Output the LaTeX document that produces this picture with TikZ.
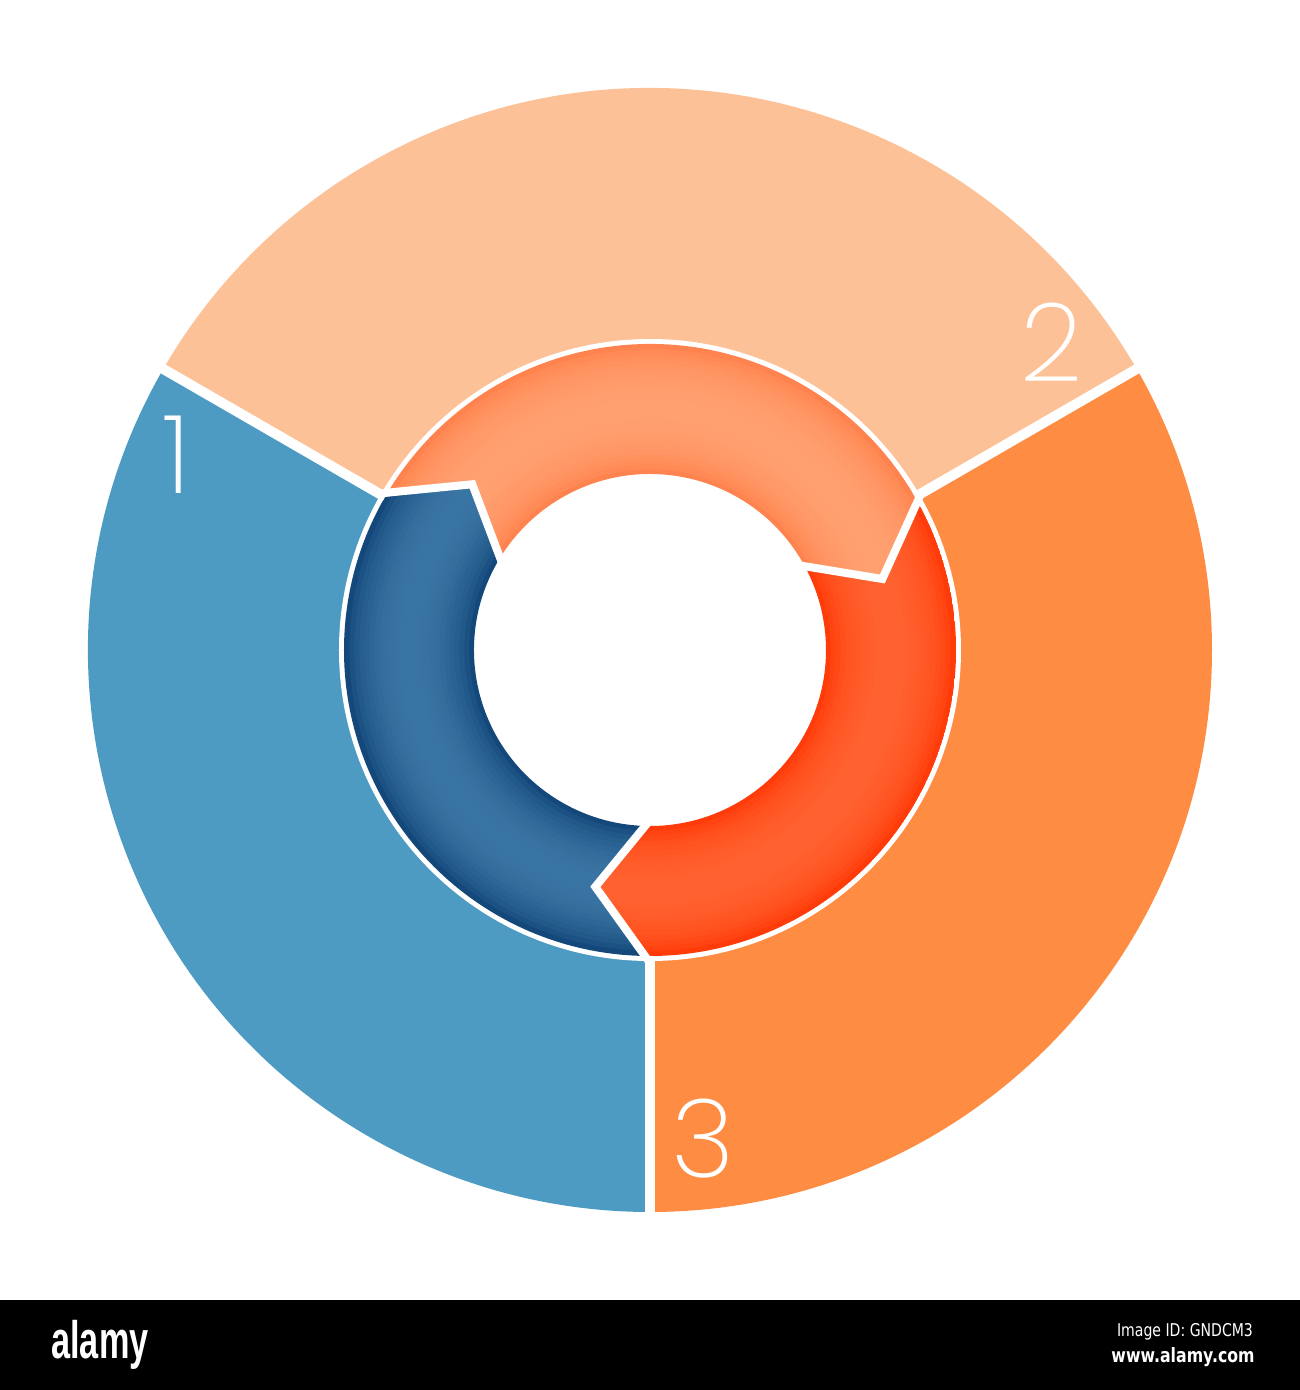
\documentclass[tikz,border=0pt]{standalone}
\usepackage{fontspec}
\newfontfamily\numfont{Poppins ExtraLight}
\newfontfamily\barfont{DejaVu Sans}
\newfontfamily\logofont{Liberation Sans}

\definecolor{peach}{HTML}{FDC197}
\definecolor{skyblue}{HTML}{4D9BC3}
\definecolor{tangerine}{HTML}{FE8C42}
\definecolor{salmonD}{HTML}{FF7D48}
\definecolor{salmonL}{HTML}{FFA070}
\definecolor{flameD}{HTML}{FF3300}
\definecolor{flameL}{HTML}{FF6230}
\definecolor{navyD}{HTML}{0B3E70}
\definecolor{navyL}{HTML}{3975A4}

\def\px{0.01}

% inner arrow of the ring: #1 tail angle, #2 edge colour, #3 middle colour
\newcommand{\arrowseg}[3]{%
  \begin{scope}
    \clip (#1:306*\px) arc[start angle=#1, end angle=#1-120, radius=306*\px]
      -- (#1-133:243*\px) -- (#1-120:176*\px)
      arc[start angle=#1-120, end angle=#1, radius=176*\px]
      -- (#1-13:243*\px) -- cycle;
    \foreach \k in {0,...,25}{
      \pgfmathsetmacro{\rr}{(178.5+5*\k)*\px}
      \pgfmathsetmacro{\mix}{100*(sin(180*(\k+0.5)/26))^0.6}
      \draw[line width=0.056cm, color=#3!\mix!#2] (0,0) circle (\rr);
    }
  \end{scope}
}

\begin{document}
\begin{tikzpicture}[divider/.style={white, line width=0.1cm},
  chevron/.style={white, line width=0.08cm, line join=miter, miter limit=10},
  numlabel/.style={text=white, inner sep=0pt, font=\numfont\fontsize{31}{31}\selectfont},
  bartext/.style={text=white, inner sep=0pt, xscale=0.8}]
\useasboundingbox (-650*\px,-740*\px) rectangle (650*\px,650*\px);

% outer sectors
\fill[peach]     (0,0) -- (30:562*\px)  arc[start angle=30,  end angle=150, radius=562*\px] -- cycle;
\fill[skyblue]   (0,0) -- (150:562*\px) arc[start angle=150, end angle=270, radius=562*\px] -- cycle;
\fill[tangerine] (0,0) -- (270:562*\px) arc[start angle=270, end angle=390, radius=562*\px] -- cycle;
\fill[white] (0,0) circle (311*\px);

% inner arrows
\arrowseg{150}{salmonD}{salmonL}
\arrowseg{30}{flameD}{flameL}
\arrowseg{-90}{navyD}{navyL}

\foreach \b in {150,30,-90}{
  \draw[chevron] (\b:313*\px) -- (\b-13:243*\px) -- (\b:170*\px);
  \draw[divider] (\b:306*\px) -- (\b:570*\px);
}

% numbers
\node[numlabel] (one)   at (-473*\px, 195*\px) {1};
\node[numlabel] (two)   at ( 402*\px, 308*\px) {2};
\node[numlabel] (three) at (  53*\px,-489*\px) {3};

% bottom bar
\fill[black] (-650*\px,-650*\px) rectangle (650*\px,-740*\px);
\node[text=white, inner sep=0pt, xscale=0.65, font=\logofont\bfseries\fontsize{15}{15}\selectfont]
  (logo) at (-550*\px,-695*\px) {alamy};
\node[bartext, font=\barfont\fontsize{5}{5}\selectfont] (imgid) at (535*\px,-682*\px) {Image ID: GNDCM3};
\node[bartext, font=\barfont\bfseries\fontsize{5.6}{5.6}\selectfont] (url) at (533*\px,-707*\px) {www.alamy.com};
\end{tikzpicture}
\end{document}
